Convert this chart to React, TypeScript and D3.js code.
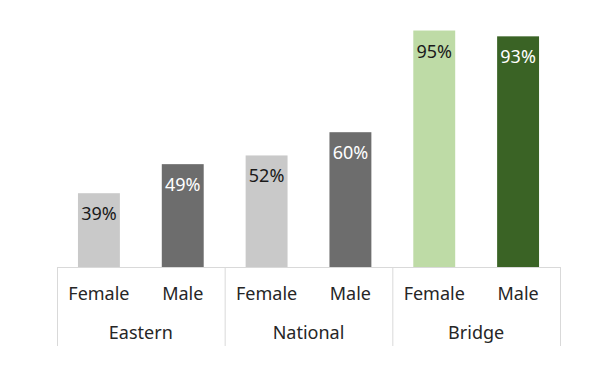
import React from 'react';
import * as d3 from 'd3';

const groups = ['Eastern', 'National', 'Bridge'];
const genders = ['Female', 'Male'];
const easternValues = [39, 49];
const nationalValues = [52, 60];
const bridgeValues = [95, 93];

const barColors: Record<string, string[]> = {
    Eastern: ['#c9c9c9', '#6d6d6d'],
    National: ['#c9c9c9', '#6d6d6d'],
    Bridge: ['#bedba6', '#3a6325'],
};
const labelColors = ['#1a1a1a', '#ffffff'];

const W = 600;
const H = 386;
const baseY = 267;
const FONT = '"Noto Sans", sans-serif';

const App = () => {
    const valuesByGroup: Record<string, number[]> = {
        Eastern: easternValues,
        National: nationalValues,
        Bridge: bridgeValues,
    };

    const x0 = d3.scaleBand().domain(groups).range([57, 560]).padding(0);
    const x1 = d3.scaleBand()
        .domain(genders)
        .range([0, x0.bandwidth()])
        .paddingInner(0.5)
        .paddingOuter(0.25);
    // value axis doesn't start at zero in the source chart
    const y = d3.scaleLinear().domain([13.6, 100]).range([baseY, 16]);
    const fmt = (v: number) => `${v}%`;

    return (
        <svg width={W} height={H} style={{ position: 'absolute', left: 0, top: 0, background: '#fff' }}>
            {groups.map((g) => (
                <g key={g} transform={`translate(${x0(g)},0)`}>
                    {valuesByGroup[g].map((v, i) => {
                        const gender = genders[i];
                        const bx = x1(gender) as number;
                        return (
                            <g key={gender}>
                                <rect x={bx} y={y(v)} width={x1.bandwidth()} height={baseY - y(v)} fill={barColors[g][i]} />
                                <text x={bx + x1.bandwidth() / 2} y={y(v) + 27} textAnchor="middle"
                                    fontFamily={FONT} fontSize={18} fill={labelColors[i]}>{fmt(v)}</text>
                                <text x={bx + x1.bandwidth() / 2} y={300} textAnchor="middle"
                                    fontFamily={FONT} fontSize={18} fill="#262626">{gender}</text>
                            </g>
                        );
                    })}
                    <text x={x0.bandwidth() / 2} y={339} textAnchor="middle"
                        fontFamily={FONT} fontSize={18} fill="#262626">{g}</text>
                </g>
            ))}
            <line x1={57} x2={560} y1={baseY + 0.5} y2={baseY + 0.5} stroke="#d9d9d9" />
            {[...groups.map((g) => x0(g) as number), 560].map((sx, i) => (
                <line key={i} x1={sx + 0.5} x2={sx + 0.5} y1={baseY} y2={346} stroke="#d9d9d9" />
            ))}
        </svg>
    );
};

export default App;
